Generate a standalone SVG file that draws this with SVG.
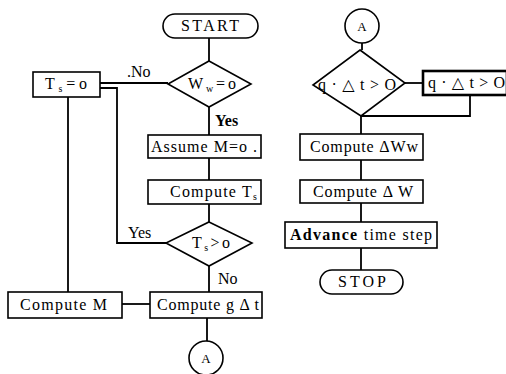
<svg xmlns="http://www.w3.org/2000/svg" width="506" height="374" viewBox="0 0 506 374">
<style>
.b{fill:#fff;stroke:#000;stroke-width:1.6}
.tb{fill:#fff;stroke:#000;stroke-width:2.6}
.c{fill:none;stroke:#000;stroke-width:1.8}
text{font-family:"Liberation Serif","DejaVu Serif",serif;font-size:16px;fill:#000}
.m{text-anchor:middle}
.s{font-size:10px}
.a{font-size:13px}
.bd{font-weight:bold}
</style>
<rect width="506" height="374" fill="#fff"/>
<g id="connectors">
<path class="c" d="M209,38V61"/>
<path class="c" d="M168,83H100"/>
<path class="c" d="M209,107V135"/>
<path class="c" d="M209,158V180"/>
<path class="c" d="M209,204V222"/>
<path class="c" d="M166,243H117V88H100"/>
<path class="c" d="M209,266V292"/>
<path class="c" d="M68,97V292"/>
<path class="c" d="M122,304H150"/>
<path class="c" d="M207,318V341"/>
<path class="c" d="M362,43V50"/>
<path class="c" d="M405,83H423"/>
<path class="c" d="M470,95V116H361"/>
<path class="c" d="M361,116V134"/>
<path class="c" d="M361,160V180"/>
<path class="c" d="M361,203V222"/>
<path class="c" d="M361,248V270"/>
</g>
<g id="start">
<rect class="b" x="163" y="14" width="95" height="24" rx="12"/>
<text class="m" x="210" y="31" textLength="58" lengthAdjust="spacing">START</text>
</g>
<g id="dec_ww">
<polygon class="b" points="209,61 251,84 209,107 168,84"/>
<text x="188" y="89" textLength="48" lengthAdjust="spacing">W<tspan class="s" dy="3">w</tspan><tspan dy="-3">=o</tspan></text>
</g>
<g id="label_no1"><text x="127" y="77">.No</text></g>
<g id="ts_zero">
<rect class="b" x="33" y="72" width="67" height="25"/>
<text x="45" y="89" textLength="42" lengthAdjust="spacing">T<tspan class="s" dy="3">s</tspan><tspan dy="-3">=o</tspan></text>
</g>
<g id="label_yes1"><text class="bd" x="215" y="126">Yes</text></g>
<g id="assume_m">
<rect class="b" x="148" y="135" width="113" height="23"/>
<text x="151" y="152" textLength="106" lengthAdjust="spacing">Assume M=o .</text>
</g>
<g id="compute_ts">
<rect class="b" x="148" y="180" width="113" height="24"/>
<text x="170" y="197" textLength="87" lengthAdjust="spacing">Compute T<tspan class="s" dy="3">s</tspan></text>
</g>
<g id="dec_ts">
<polygon class="b" points="209,222 252,243 209,266 166,243"/>
<text x="192" y="248" textLength="38" lengthAdjust="spacing">T<tspan class="s" dy="3">s</tspan><tspan dy="-3">&gt;o</tspan></text>
</g>
<g id="label_yes2"><text x="128" y="238">Yes</text></g>
<g id="label_no2"><text x="218" y="284">No</text></g>
<g id="compute_m">
<rect class="b" x="8" y="292" width="114" height="26"/>
<text x="20" y="310" textLength="87" lengthAdjust="spacing">Compute M</text>
</g>
<g id="compute_gdt">
<rect class="b" x="150" y="292" width="112" height="26"/>
<text x="157" y="310" textLength="102" lengthAdjust="spacing">Compute g Δ t</text>
</g>
<g id="conn_a1">
<circle class="b" cx="206" cy="358" r="17"/>
<text class="m a" x="206" y="363">A</text>
</g>
<g id="conn_a2">
<circle class="b" cx="362" cy="26" r="17"/>
<text class="m a" x="362" y="31">A</text>
</g>
<g id="dec_q">
<polygon class="b" points="360,50 405,83 361,116 313,85"/>
<text x="318" y="90" textLength="78" lengthAdjust="spacing">q·△t&gt;O</text>
</g>
<g id="box_q">
<rect class="tb" x="423" y="71" width="84" height="24"/>
<text x="428" y="88" textLength="77" lengthAdjust="spacing">q·△t&gt;O</text>
</g>
<g id="compute_dww">
<rect class="b" x="300" y="134" width="123" height="26"/>
<text x="310" y="152" textLength="108" lengthAdjust="spacing">Compute ΔWw</text>
</g>
<g id="compute_dw">
<rect class="b" x="300" y="180" width="123" height="23"/>
<text x="313" y="197" textLength="100" lengthAdjust="spacing">Compute Δ W</text>
</g>
<g id="advance">
<rect class="b" x="285" y="222" width="152" height="26"/>
<text x="290" y="240" textLength="142" lengthAdjust="spacing"><tspan class="bd">Advance</tspan> time step</text>
</g>
<g id="stop">
<rect class="b" x="320" y="270" width="83" height="24" rx="12"/>
<text class="m" x="362" y="287" textLength="48" lengthAdjust="spacing">STOP</text>
</g>
</svg>
